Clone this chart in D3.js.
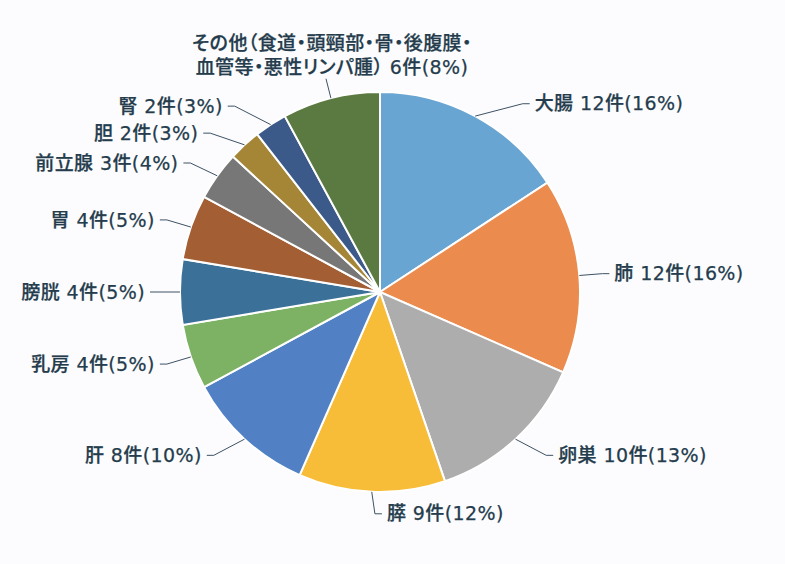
<!DOCTYPE html>
<html>
<head>
<meta charset="utf-8">
<script src="https://cdn.jsdelivr.net/npm/d3@7"></script>
<style>
  html, body { margin: 0; padding: 0; background: #fcfcfe; }
  svg { display: block; }
  text { font-family: "DejaVu Sans", "Noto Sans CJK JP", sans-serif; font-weight: 500; fill: #253c4d;
         font-feature-settings: "palt"; stroke: #253c4d; stroke-width: 0.25px; letter-spacing: 0.4px; }
</style>
</head>
<body>
<svg id="chart" width="785" height="564"></svg>
<script>
// data
var names = ['大腸', '肺', '卵巣', '膵', '肝', '乳房', '膀胱', '胃', '前立腺', '胆', '腎',
  'その他（食道・頭頸部・骨・後腹膜・\n血管等・悪性リンパ腫）'];
var counts = [12, 12, 10, 9, 8, 4, 4, 4, 3, 2, 2, 6];
var percents = [16, 16, 13, 12, 10, 5, 5, 5, 4, 3, 3, 8];
var colors = ['#69a5d2', '#ec8b4e', '#adadad', '#f7bd39', '#5181c4', '#7db264',
  '#3b7098', '#a35f33', '#777777', '#a58536', '#3c5a89', '#5b7a41'];

var width = 785, height = 564,
  cx = 380, cy = 292, r = 200,
  fontSize = 19,
  gap = 27;

var svg = d3.select('#chart');

var pie = d3.pie().sort(null).value(function(d) { return d; });
var arc = d3.arc().innerRadius(0).outerRadius(r);
var arcs = pie(counts);

var g = svg.append('g').attr('transform', 'translate(' + cx + ',' + cy + ')');

g.selectAll('path.slice')
  .data(arcs)
  .enter()
  .append('path')
  .attr('class', 'slice')
  .attr('d', arc)
  .attr('fill', function(d, i) { return colors[i]; })
  .attr('stroke', '#ffffff')
  .attr('stroke-width', 2);

// label layout
function labelText(i) {
  return names[i] + ' ' + counts[i] + '件(' + percents[i] + '%)';
}

var labels = arcs.map(function(d, i) {
  var a = (d.startAngle + d.endAngle) / 2,
    s = Math.sin(a), c = Math.cos(a);
  var kind = c > 0.95 ? 'top' : (c < -0.95 ? 'bottom' : (s > 0 ? 'right' : 'left'));
  return {
    i: i, s: s, c: c, kind: kind,
    ex: s * r, ey: -c * r,           // where the line touches the slice
    y: -c * (r + 22)
  };
});

// top label sits above its leader, others can't go higher than it
var topEnd = -(r + 20);
labels.forEach(function(l) {
  if (l.kind == 'top') {
    l.x = l.s * (r + 20);
    l.y = -l.c * (r + 20);
    topEnd = l.y;
  }
});
var minY = topEnd + 25, maxY = r + 22;

function spread(list) {
  list.sort(function(a, b) { return a.y - b.y; });
  for (var k = 0; k < list.length; k++) {
    var lo = k ? list[k - 1].y + gap : minY;
    if (list[k].y < lo) list[k].y = lo;
  }
  for (var k = list.length - 1; k >= 0; k--) {
    var hi = k < list.length - 1 ? list[k + 1].y - gap : maxY;
    if (list[k].y > hi) list[k].y = hi;
  }
}
spread(labels.filter(function(l) { return l.kind == 'right' || l.kind == 'bottom'; }));
spread(labels.filter(function(l) { return l.kind == 'left'; }));

var A = 223, B = 245;
labels.forEach(function(l) {
  if (l.kind == 'top') return;
  l.sign = l.kind == 'left' ? -1 : 1;
  if (l.kind == 'bottom') {
    l.x = l.s * (r + 20) + 4;
  } else {
    l.x = l.sign * A * Math.sqrt(Math.max(0, 1 - (l.y * l.y) / (B * B)));
  }
});

var lbl = g.selectAll('g.label')
  .data(labels)
  .enter()
  .append('g')
  .attr('class', 'label');

lbl.append('path')
  .attr('fill', 'none')
  .attr('stroke', '#3d5264')
  .attr('stroke-width', 1)
  .attr('d', function(l) {
    if (l.kind == 'top') return 'M' + l.ex + ',' + l.ey + 'L' + l.x + ',' + l.y;
    return 'M' + l.ex + ',' + l.ey + 'L' + l.x + ',' + l.y + 'L' + (l.x + l.sign * 7) + ',' + l.y;
  });

lbl.each(function(l) {
  var sel = d3.select(this);
  if (l.kind == 'top') {
    var lines = labelText(l.i).split('\n');
    var t = sel.append('text')
      .attr('text-anchor', 'middle')
      .style('font-size', fontSize + 'px');
    lines.forEach(function(line, k) {
      t.append('tspan')
        .attr('x', l.x + 6)
        .attr('y', l.y - 11 - (lines.length - 1 - k) * 24)
        .attr('dy', '0.35em')
        .text(line);
    });
  } else {
    sel.append('text')
      .attr('x', l.x + l.sign * 12)
      .attr('y', l.y)
      .attr('dy', '0.35em')
      .attr('text-anchor', l.sign < 0 ? 'end' : 'start')
      .style('font-size', fontSize + 'px')
      .text(labelText(l.i));
  }
});
</script>
</body>
</html>
